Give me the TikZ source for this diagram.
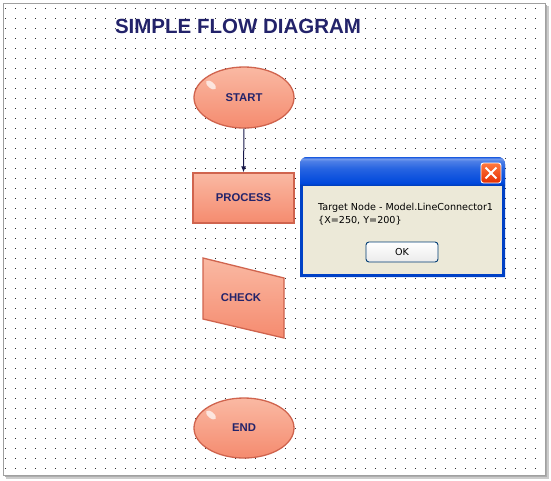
\documentclass[tikz,border=0pt]{standalone}
\usepackage{fontspec}
\setmainfont{Liberation Sans}
\newfontfamily\dlgfont{DejaVu Sans}
\usetikzlibrary{shapes.geometric,arrows.meta}
\definecolor{navy}{HTML}{23236A}
\definecolor{salmonTop}{HTML}{FAB9A3}
\definecolor{salmonMid}{HTML}{F7977C}
\definecolor{salmonBot}{HTML}{F58B6F}
\definecolor{salmonLine}{HTML}{D0644E}
\definecolor{dotc}{HTML}{2A2A2A}
\definecolor{xpbeige}{HTML}{ECE9D8}
\definecolor{xpborder}{HTML}{0048DC}
\definecolor{xpbtn}{HTML}{003C74}
\definecolor{frameline}{HTML}{A0A0A0}
\pgfdeclareverticalshading{xptitle}{100bp}{color(0bp)=(xpborder!80!black); color(25bp)=(xpborder!80!black); color(30bp)=(xpborder); color(55bp)=(xpborder!85!white); color(68bp)=(xpborder!70!white); color(72bp)=(xpborder!55!white); color(75bp)=(xpborder!90!white); color(100bp)=(xpborder!90!white)}
\begin{document}
\begin{tikzpicture}[x=1pt,y=-1pt,
  shapebox/.style={draw=salmonLine, line width=1.3pt, top color=salmonTop, middle color=salmonMid, bottom color=salmonBot},
  lbl/.style={font=\fontsize{11.3}{13}\selectfont\bfseries, text=navy},
  gloss/.style={fill=white, opacity=0.7},
  dlgtext/.style={font=\dlgfont\fontsize{9.6}{12}\selectfont, text=black, inner sep=0pt},
  flow/.style={draw=navy!70!black, line width=1pt, -{Latex[length=6pt,width=5pt]}}
]
\useasboundingbox (0,0) rectangle (551,480);
% canvas frame with shadow
\fill[black!20] (6,6) rectangle (549,479);
\fill[black!32] (5,5) rectangle (547,477);
\fill[white, draw=frameline, line width=0.8pt] (3,3) rectangle (545,475);
% dot grid
\foreach \i in {0,...,53} {
  \foreach \j in {0,...,46} {
    \fill[dotc] ({5+10*\i},{8+10*\j}) rectangle ++(1,1);
  }
}
% title
\node[font=\fontsize{20.5}{24}\selectfont\bfseries, text=navy, anchor=base, inner sep=0pt] (title) at (238,33) {SIMPLE FLOW DIAGRAM};
% START
\node[ellipse, shapebox, minimum width=100pt, minimum height=61pt, inner sep=0pt] (start) at (244,97.5) {};
\fill[gloss, rotate around={-40:(211,85)}] (211,85) ellipse [x radius=6pt, y radius=3pt];
\node[lbl] at (start.center) {START};
% PROCESS
\node[rectangle, shapebox, minimum width=101pt, minimum height=50pt, inner sep=0pt] (process) at (243.5,198) {};
\node[lbl] at (process.center) {PROCESS};
% CHECK (parallelogram)
\coordinate (c1) at (203,258);
\coordinate (c2) at (284,278);
\coordinate (c3) at (284,338);
\coordinate (c4) at (203,319);
\path[shapebox] (c1) -- (c2) -- (c3) -- (c4) -- cycle;
\node[lbl] (check) at (241,298) {CHECK};
% END
\node[ellipse, shapebox, minimum width=100pt, minimum height=60pt, inner sep=0pt] (end) at (244,428) {};
\fill[gloss, rotate around={-40:(211,415)}] (211,415) ellipse [x radius=6pt, y radius=3pt];
\node[lbl] at (end.center) {END};
% connector
\draw[flow] (start.south) -- (process.north);
% dialog
\fill[xpborder!90!black] (300,277) [rounded corners=7pt] -- (300,157) -- (505,157) [sharp corners] -- (505,277) -- cycle;
\shade[shading=xptitle] (300,186) [rounded corners=7pt] -- (300,157) -- (505,157) [sharp corners] -- (505,186) -- cycle;
\fill[xpbeige] (303,186) rectangle (502,274);
\node[draw=white, line width=0.9pt, rounded corners=2.5pt, top color=orange!60!red!75!white, bottom color=orange!40!red!90!black, minimum width=20pt, minimum height=20pt, inner sep=0pt] (close) at (491,173) {};
\draw[white, line width=2pt] ([shift={(5pt,-5pt)}]close.north west) -- ([shift={(-5pt,5pt)}]close.south east);
\draw[white, line width=2pt] ([shift={(5pt,5pt)}]close.south west) -- ([shift={(-5pt,-5pt)}]close.north east);
\node[dlgtext, anchor=base west] (msg1) at (318,210) {Target Node - Model.LineConnector1};
\node[dlgtext, anchor=base west] (msg2) at (318,223) {\{X=250, Y=200\}};
\node[draw=xpbtn, line width=0.9pt, rounded corners=3pt, top color=white, bottom color=black!8, minimum width=72pt, minimum height=20pt, inner sep=0pt, font=\dlgfont\fontsize{9.6}{12}\selectfont] (ok) at (402,252) {OK};
\end{tikzpicture}
\end{document}
